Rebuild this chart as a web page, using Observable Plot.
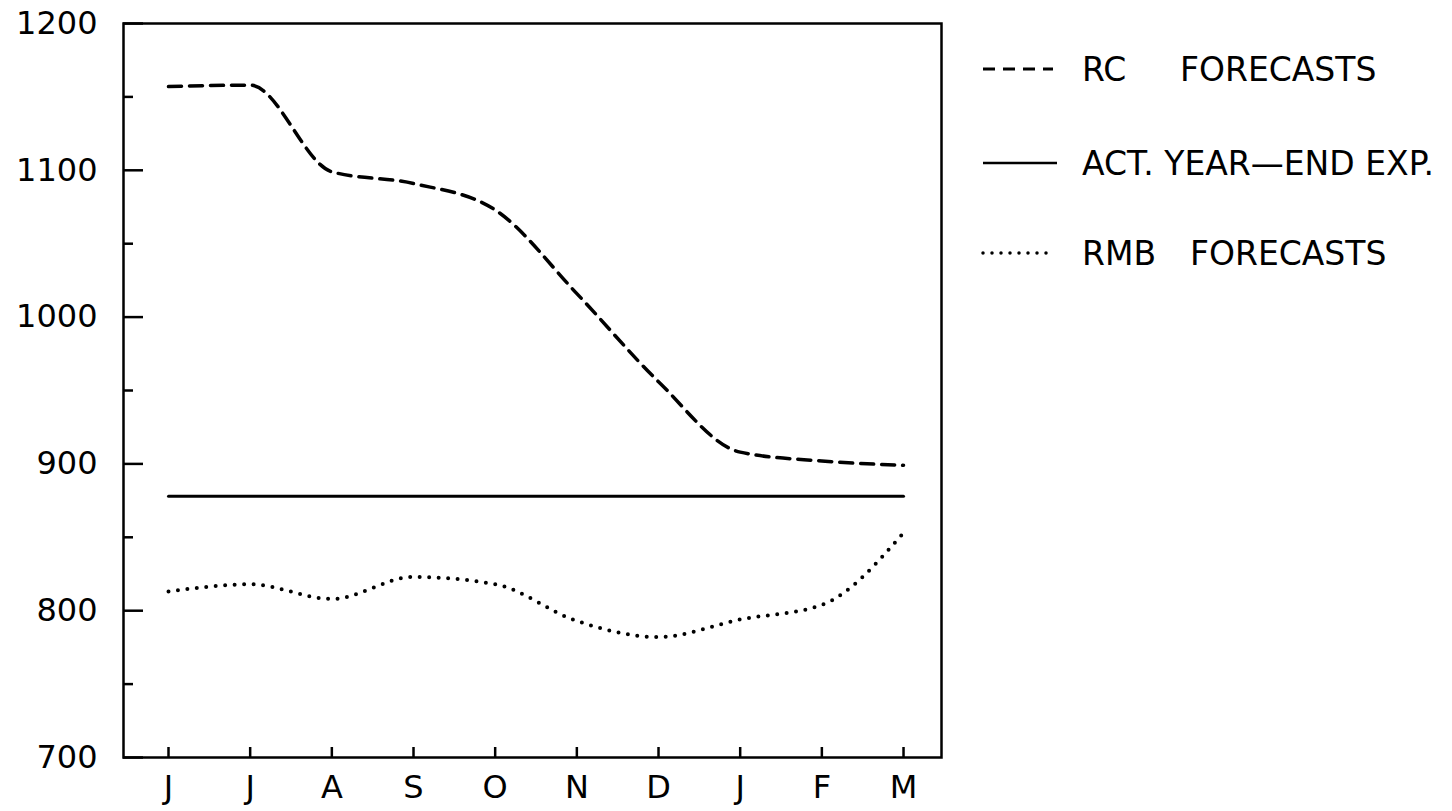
<!DOCTYPE html>
<html><head><meta charset="utf-8">
<script src="https://cdn.jsdelivr.net/npm/d3@7"></script>
<script src="https://cdn.jsdelivr.net/npm/@observablehq/plot@0.6"></script>
<style>body{margin:0;background:#fff} svg{display:block}</style>
</head><body><div id="chart"></div>
<script>
const months = ["J","J","A","S","O","N","D","J","F","M"];
const rcForecasts = [1157, 1158, 1099, 1091, 1073, 1016, 956, 908, 902, 899];
const rmbForecasts = [813, 818, 808, 823, 818, 793, 782, 794, 804, 853];
const actualYearEnd = 878;
const yMajorTicks = [700, 800, 900, 1000, 1100, 1200];
const yMinorTicks = [750, 850, 950, 1050, 1150];
const legendItems = [
  {name: "RC", rest: "FORECASTS", dash: "12,8", width: 3, cap: "butt"},
  {name: "ACT. YEAR—END EXP.", rest: "", dash: null, width: 2.5, cap: "butt"},
  {name: "RMB", rest: "FORECASTS", dash: "0,9", width: 3.5, cap: "round"}
];

const idx = months.map((_, i) => i);
const rc = idx.map(i => ({i, v: rcForecasts[i]}));
const rmb = idx.map(i => ({i, v: rmbForecasts[i]}));
const act = idx.map(i => ({i, v: actualYearEnd}));

const W = 1452, H = 811, mL = 123, mR = 511, mT = 23, mB = 54;
const plotW = W - mL - mR, plotH = H - mT - mB;

const chart = Plot.plot({
  width: W, height: H,
  marginLeft: mL, marginRight: mR, marginTop: mT, marginBottom: mB,
  style: {fontFamily: "DejaVu Sans", color: "#000", background: "#fff"},
  x: {type: "linear", domain: [-0.551, 9.465]},
  y: {domain: [700, 1200]},
  marks: [
    Plot.axisY(yMajorTicks, {tickSize: 0, tickPadding: 26, fontSize: 32, label: null, tickFormat: d => String(d)}),
    Plot.axisX(idx, {tickSize: 0, tickPadding: 18, fontSize: 32, tickFormat: i => months[i], label: null}),
    Plot.tickY(yMajorTicks, {y: d => d, insetRight: plotW - 20, stroke: "#000", strokeWidth: 2.5}),
    Plot.tickY(yMinorTicks, {y: d => d, insetRight: plotW - 10, stroke: "#000", strokeWidth: 2.5}),
    Plot.tickX(idx, {x: d => d, insetTop: plotH - 10, stroke: "#000", strokeWidth: 2.5}),
    Plot.line(act, {x: "i", y: "v", stroke: "#000", strokeWidth: 3}),
    Plot.line(rc, {x: "i", y: "v", curve: "monotone-x", stroke: "#000", strokeWidth: 3.5, strokeDasharray: "13,8"}),
    Plot.line(rmb, {x: "i", y: "v", curve: "monotone-x", stroke: "#000", strokeWidth: 4, strokeDasharray: "0,9.5", strokeLinecap: "round"}),
    Plot.frame({stroke: "#000", strokeWidth: 2.5})
  ]
});

const svg = d3.select(chart);
const rowsY = [69, 163, 253];
const restX = [1180, null, 1190];
const lg = svg.append("g").attr("font-family", "DejaVu Sans").attr("font-size", 33)
  .attr("fill", "#000").attr("text-anchor", "start");
legendItems.forEach((d, k) => {
  lg.append("line")
    .attr("x1", 983).attr("x2", k === 1 ? 1057 : 1053)
    .attr("y1", rowsY[k]).attr("y2", rowsY[k])
    .attr("stroke", "#000").attr("stroke-width", d.width)
    .attr("stroke-linecap", d.cap)
    .attr("stroke-dasharray", d.dash);
  const t = lg.append("text").attr("y", rowsY[k]).attr("dy", "0.36em").attr("text-anchor", "start");
  t.append("tspan").attr("x", 1082).text(d.name + (d.rest ? " " : ""));
  if (d.rest) t.append("tspan").attr("x", restX[k]).text(d.rest);
});

document.getElementById("chart").append(chart);
</script>
</body></html>
